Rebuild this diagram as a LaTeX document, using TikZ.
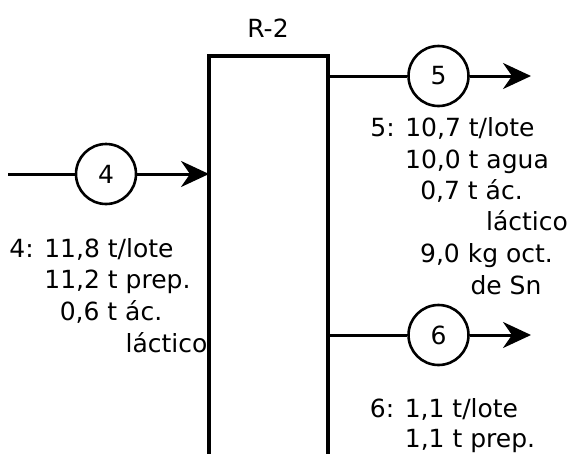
\documentclass[tikz,border=0pt]{standalone}
\usepackage{fontspec}
\setmainfont{DejaVu Sans}
\usetikzlibrary{arrows.meta}
\begin{document}
\begin{tikzpicture}[x=1pt,y=-1pt,
  stream/.style={circle,draw,line width=2.6pt,minimum size=60pt,inner sep=0pt,font=\fontsize{25}{30}\selectfont},
  reactor/.style={draw,line width=3.8pt,minimum width=119pt,minimum height=420pt,inner sep=0pt,outer sep=0pt,anchor=north west},
  flow/.style={line width=3pt},
  flowarrow/.style={line width=3pt,-{Stealth[length=28pt,width=26pt,inset=9pt]}},
  lbl/.style={anchor=base,inner sep=0pt,font=\fontsize{25}{30}\selectfont}]
\useasboundingbox (0,0) rectangle (570,453);
\clip (0,0) rectangle (570,453);
% reactor
\node[reactor] (R2) at (209,56) {};
\node[lbl] (R2t) at (268,37) {R-2};
% stream circles
\node[stream] (c4) at (106,174) {4};
\node[stream] (c5) at (438.5,76) {5};
\node[stream] (c6) at (438.5,335) {6};
% free ends
\coordinate (i4) at (8,174);
\coordinate (o5) at (531,76);
\coordinate (o6) at (531,335);
% connectors
\draw[flow] (i4) -- (c4);
\draw[flowarrow] (c4) -- (c4 -| R2.west);
\draw[flow] (R2.east |- c5) -- (c5);
\draw[flowarrow] (c5) -- (o5);
\draw[flow] (R2.east |- c6) -- (c6);
\draw[flowarrow] (c6) -- (o6);
% labels stream 4
\node[lbl] (l4a) at (91.5,257) {4: 11,8 t/lote};
\node[lbl] (l4b) at (117.5,288) {11,2 t prep.};
\node[lbl] (l4c) at (111,320) {0,6 t ác.};
\node[lbl] (l4d) at (166.5,352) {láctico};
% labels stream 5
\node[lbl] (l5a) at (452.5,136) {5: 10,7 t/lote};
\node[lbl] (l5b) at (477,168) {10,0 t agua};
\node[lbl] (l5c) at (471.5,199) {0,7 t ác.};
\node[lbl] (l5d) at (527,230) {láctico};
\node[lbl] (l5e) at (486.5,262) {9,0 kg oct.};
\node[lbl] (l5f) at (506,294) {de Sn};
% labels stream 6
\node[lbl] (l6a) at (444,417) {6: 1,1 t/lote};
\node[lbl] (l6b) at (470,447) {1,1 t prep.};
\end{tikzpicture}
\end{document}
